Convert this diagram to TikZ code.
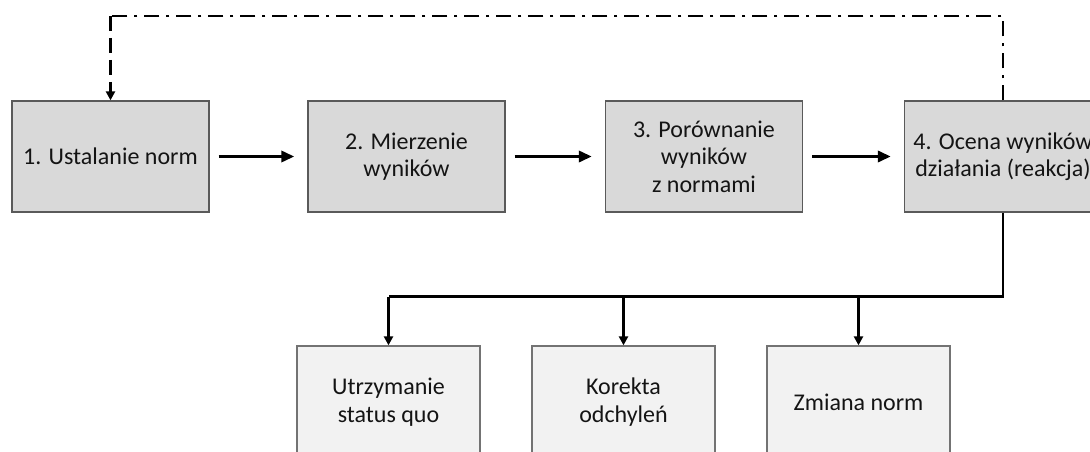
\documentclass[tikz,border=0pt]{standalone}
\usepackage{fontspec}
\setmainfont{Carlito}
\usetikzlibrary{arrows.meta}
\definecolor{topfill}{HTML}{D9D9D9}
\definecolor{botfill}{HTML}{F2F2F2}
\definecolor{edge}{HTML}{5A5A5A}
\definecolor{ink}{HTML}{141414}
\tikzset{
  topbox/.style={draw=edge, line width=1.3pt, fill=topfill, minimum width=197pt, minimum height=111pt,
    align=center, inner sep=0pt, text=ink, font=\fontsize{24}{27.5}\selectfont},
  botbox/.style={draw=edge!85, line width=1.3pt, fill=botfill, minimum width=183pt, minimum height=112pt,
    align=center, inner sep=0pt, text=ink, font=\fontsize{24}{28.5}\selectfont},
  flow/.style={line width=3.4pt, -{Triangle[length=13pt,width=11pt]}, shorten <=9pt, shorten >=13pt},
  branch/.style={line width=2.8pt},
  brarrow/.style={line width=2.8pt, -{Triangle[length=9pt,width=9pt]}},
  fbdashdot/.style={line width=2.8pt, dash pattern=on 15pt off 7pt on 3pt off 7pt},
  fbdash/.style={line width=2.8pt, dash pattern=on 15pt off 7pt, -{Triangle[length=9pt,width=9pt]}}
}
\begin{document}
\begin{tikzpicture}[x=1pt,y=-1pt]
\useasboundingbox (0,0) rectangle (1090,452);
\clip (0,0) rectangle (1090,452);
\fill[white] (0,0) rectangle (1090,452);

\node[topbox] (b1) at (110.5,156.5) {1. Ustalanie norm};
\node[topbox] (b2) at (406.5,156.5) {2. Mierzenie\\wyników};
\node[topbox] (b3) at (704,156.5) {3. Porównanie\\wyników\\z normami};
\node[topbox] (b4) at (1003,156.5) {4. Ocena wyników\\działania (reakcja)};

\node[botbox] (c1) at (388.5,402) {Utrzymanie\\status quo};
\node[botbox] (c2) at (623.5,402) {Korekta\\odchyleń};
\node[botbox] (c3) at (858.5,402) {Zmiana norm};

\draw[flow] (b1) -- (b2);
\draw[flow] (b2) -- (b3);
\draw[flow] (b3) -- (b4);

\coordinate (bus) at (388.5,296.5);
\coordinate (fbR) at (1003,16);
\coordinate (fbL) at (110.5,16);
\draw[branch] (b4.south) |- (bus);
\draw[brarrow] (bus) -- (c1.north);
\draw[brarrow] (c2.north |- bus) -- (c2.north);
\draw[brarrow] (c3.north |- bus) -- (c3.north);

\draw[fbdashdot] (b4.north) -- (fbR) -- (fbL);
\draw[fbdash] (fbL) -- (b1.north);
\end{tikzpicture}
\end{document}
